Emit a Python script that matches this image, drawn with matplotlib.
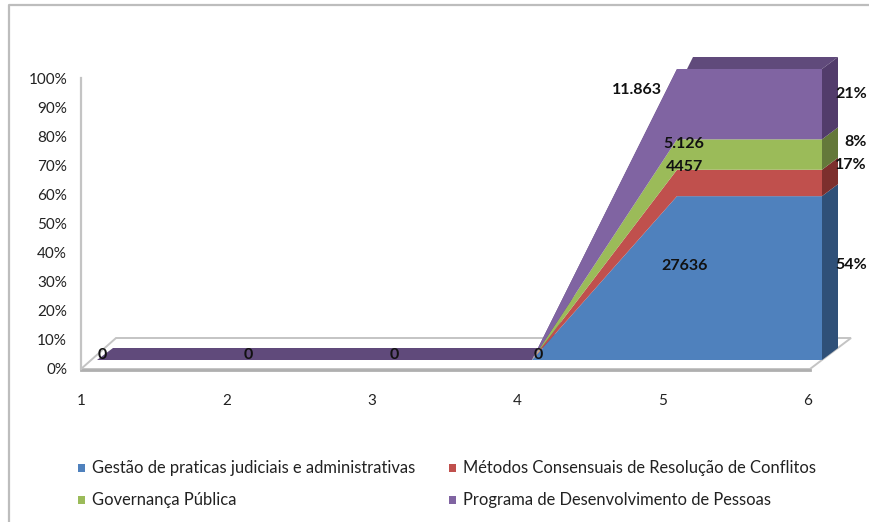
import matplotlib
matplotlib.use('Agg')
import matplotlib.pyplot as plt
from matplotlib.patches import Polygon
from matplotlib.lines import Line2D
from matplotlib.transforms import Affine2D
import numpy as np

plt.rcParams['font.family'] = ['Lato', 'DejaVu Sans']

positions = [1, 2, 3, 4, 5, 6]
gestao = [0, 0, 0, 0, 27636, 27636]
metodos = [0, 0, 0, 0, 4457, 4457]
governanca = [0, 0, 0, 0, 5126, 5126]
programa = [0, 0, 0, 0, 11863, 11863]

series_names = ['Gestão de praticas judiciais e administrativas',
                'Métodos Consensuais de Resolução de Conflitos',
                'Governança Pública',
                'Programa de Desenvolvimento de Pessoas']
front_colors = ['#4F81BD', '#C0504D', '#9BBB59', '#8064A2']
side_colors = ['#2F5078', '#7D2F2D', '#64783A', '#523C6B']
top_color = '#604A7B'

y_ticks = [0, 10, 20, 30, 40, 50, 60, 70, 80, 90, 100]
zero_labels = ['0', '0', '0', '0']
pct_labels = ['54%', '17%', '8%', '21%']
value_labels = ['27636', '4457', '5.126', '11.863']

W, H = 869, 522
DEPTH_X, DEPTH_Y = 16, 12


def axes_px(fig, left, right, top, bottom):
    return fig.add_axes([left / W, 1 - bottom / H, (right - left) / W, (bottom - top) / H])


fig = plt.figure(figsize=(W / 100, H / 100), dpi=100, facecolor='white')

# pixel layer for the frame, floor and loose labels
bg = fig.add_axes([0, 0, 1, 1])
bg.set_xlim(0, W)
bg.set_ylim(H, 0)
bg.axis('off')
bg.add_line(Line2D([9, 9, W], [H, 5, 5], color='#BDBDBD', lw=1.6))
bg.add_patch(Polygon([(81, 369), (810, 369), (851, 338), (116, 338)], closed=True,
                     facecolor='white', edgecolor='#C4C4C4', lw=1.4))
bg.add_line(Line2D([81, 810], [370, 370], color='#AFAFAF', lw=2))

# back wall axis, carries the tick labels
wall = axes_px(fig, 81, 808, 78, 369)
wall.patch.set_alpha(0)
wall.set_xlim(1, 6)
wall.set_ylim(0, 100)
wall.set_xticks(positions)
wall.set_yticks(y_ticks)
wall.set_yticklabels([f'{v}%' for v in y_ticks])
wall.tick_params(length=0, labelsize=11, labelcolor='#222222')
wall.tick_params(axis='x', pad=18)
wall.tick_params(axis='y', pad=10)
for side in ['top', 'right', 'bottom']:
    wall.spines[side].set_visible(False)
wall.spines['left'].set_color('#C4C4C4')
wall.spines['left'].set_linewidth(1.6)

# stacked areas on the front plane, normalised to 100%
ax = axes_px(fig, 97, 822, 69, 360)
ax.patch.set_alpha(0)
ax.set_xlim(1, 6)
ax.set_ylim(0, 100)
ax.axis('off')

x = np.array(positions, dtype=float)
stack = np.array([gestao, metodos, governanca, programa], dtype=float)
totals = stack.sum(axis=0)
pct = np.divide(stack * 100, totals, out=np.zeros_like(stack), where=totals > 0)
tops = pct.cumsum(axis=0)
lows = np.vstack([np.zeros(len(x)), tops[:-1]])

back = ax.transData + Affine2D().translate(DEPTH_X, DEPTH_Y)

# top face of the last series, runs along the whole depth
top_pts = list(zip(x, tops[-1]))
top_disp = ax.transData.transform(top_pts)
top_back = back.transform(top_pts)
ax.add_patch(Polygon(np.vstack([top_disp, top_back[::-1]]), closed=True, facecolor=top_color,
                     edgecolor='none', transform=None, zorder=1, clip_on=False))

# right hand end face of each band
for i in range(4):
    end = [(x[-1], lows[i][-1]), (x[-1], tops[i][-1])]
    front_end = ax.transData.transform(end)
    back_end = back.transform(end)
    ax.add_patch(Polygon(np.vstack([front_end, back_end[::-1]]), closed=True, facecolor=side_colors[i],
                         edgecolor='none', transform=None, zorder=2, clip_on=False))

ax.stackplot(x, pct, colors=front_colors, linewidth=0, zorder=3)

# data labels
label_font = dict(fontsize=11.5, color='#111111', ha='center', va='center', fontweight='bold', zorder=5)
for txt, px in zip(zero_labels, [102, 248, 394, 538]):
    fig.text(px / W, 1 - 355 / H, txt, **label_font)
for txt, (px, py) in zip(value_labels, [(685, 266), (684, 167), (684, 144), (637, 90)]):
    fig.text(px / W, 1 - py / H, txt, **label_font)
for txt, (px, py) in zip(pct_labels, [(851, 265), (851, 165), (856, 142), (851, 94)]):
    fig.text(px / W, 1 - py / H, txt, **label_font)

# legend, two columns
legend_spots = [(78, 468), (449, 468), (78, 500), (449, 500)]
for name, color, (px, py) in zip(series_names, front_colors, legend_spots):
    bg.add_patch(Polygon([(px, py - 4), (px + 7, py - 4), (px + 7, py + 4), (px, py + 4)],
                         closed=True, facecolor=color, edgecolor='none'))
    bg.text(px + 14, py, name, fontsize=11.9, color='#222222', va='center', ha='left')

fig.savefig('out.png', dpi=100)
plt.close(fig)
